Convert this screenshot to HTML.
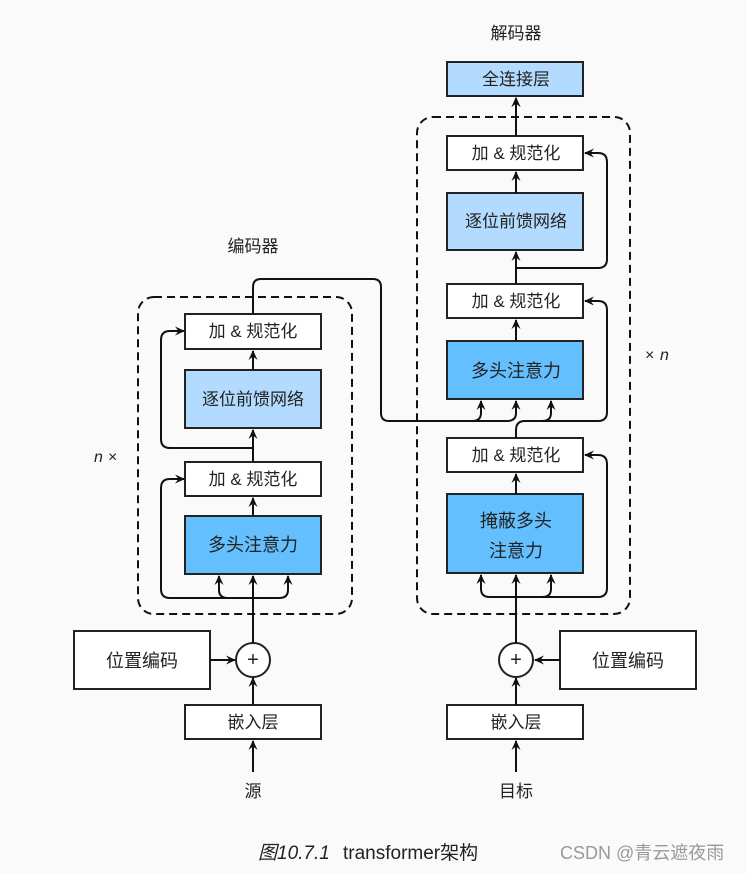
<!DOCTYPE html>
<html><head><meta charset="utf-8"><style>
html,body{margin:0;padding:0;background:#fafafa;}
svg text{font-family:"Liberation Sans","Noto Sans CJK SC",sans-serif;fill:#222;}
</style></head><body>
<svg width="747" height="869" viewBox="0 0 747 869" xmlns="http://www.w3.org/2000/svg">
<defs>
<marker id="a" viewBox="0 0 10 10" refX="9" refY="5" markerWidth="10" markerHeight="10" orient="auto" markerUnits="userSpaceOnUse">
<path d="M0,0.5 L10,5 L0,9.5 L3.5,5 z" fill="#111"/>
</marker>
</defs>
<rect width="747" height="869" fill="#fafafa"/>
<g fill="none" stroke="#111" stroke-width="2">
<rect x="138" y="297" width="214" height="317" rx="16" stroke-dasharray="8,5"/>
<rect x="417" y="117" width="213" height="497" rx="16" stroke-dasharray="8,5"/>
</g>
<g stroke="#222" stroke-width="2">
<rect x="185" y="314" width="136" height="35" fill="#fff"/>
<rect x="185" y="370" width="136" height="58" fill="#b3dbff"/>
<rect x="185" y="462" width="136" height="34" fill="#fff"/>
<rect x="185" y="516" width="136" height="58" fill="#64bfff"/>
<rect x="74" y="631" width="136" height="58" fill="#fff"/>
<rect x="185" y="705" width="136" height="34" fill="#fff"/>
<circle cx="253" cy="660" r="17" fill="#fff"/>
<rect x="447" y="62" width="136" height="34" fill="#b3dbff"/>
<rect x="447" y="136" width="136" height="34" fill="#fff"/>
<rect x="447" y="193" width="136" height="57" fill="#b3dbff"/>
<rect x="447" y="284" width="136" height="34" fill="#fff"/>
<rect x="447" y="341" width="136" height="58" fill="#64bfff"/>
<rect x="447" y="438" width="136" height="34" fill="#fff"/>
<rect x="447" y="494" width="136" height="79" fill="#64bfff"/>
<rect x="560" y="631" width="136" height="58" fill="#fff"/>
<rect x="447" y="705" width="136" height="34" fill="#fff"/>
<circle cx="516" cy="660" r="17" fill="#fff"/>
</g>
<g fill="none" stroke="#111" stroke-width="2" marker-end="url(#a)">
<line x1="253" y1="772" x2="253" y2="741"/>
<line x1="253" y1="705" x2="253" y2="678"/>
<line x1="210" y1="660" x2="235" y2="660"/>
<line x1="253" y1="643" x2="253" y2="576"/>
<path d="M253,598 H228 Q219,598 219,590 V576"/>
<path d="M253,598 H279 Q288,598 288,590 V576"/>
<path d="M253,598 H170 Q161,598 161,589 V488 Q161,479 170,479 H184"/>
<line x1="253" y1="516" x2="253" y2="498"/>
<line x1="253" y1="462" x2="253" y2="430"/>
<path d="M253,448 H170 Q161,448 161,439 V340 Q161,331 170,331 H184"/>
<line x1="253" y1="370" x2="253" y2="351"/>
<path d="M253,314 V287 Q253,279 261,279 H373 Q381,279 381,287 V413 Q381,421 389,421 H472 Q481,421 481,413 V401"/>
<path d="M470,421 H507 Q516,421 516,413 V401" />
<line x1="516" y1="772" x2="516" y2="741"/>
<line x1="516" y1="705" x2="516" y2="678"/>
<line x1="560" y1="660" x2="535" y2="660"/>
<line x1="516" y1="643" x2="516" y2="575"/>
<path d="M516,597 H490 Q481,597 481,589 V575"/>
<path d="M516,597 H542 Q551,597 551,589 V575"/>
<path d="M516,597 H598 Q607,597 607,588 V464 Q607,455 598,455 H585"/>
<line x1="516" y1="494" x2="516" y2="474"/>
<path d="M516,438 V430 Q516,421 525,421 H542 Q551,421 551,413 V401"/>
<path d="M540,421 H598 Q607,421 607,412 V310 Q607,301 598,301 H585"/>
<line x1="516" y1="341" x2="516" y2="320"/>
<line x1="516" y1="284" x2="516" y2="252"/>
<path d="M516,268 H598 Q607,268 607,259 V162 Q607,153 598,153 H585"/>
<line x1="516" y1="193" x2="516" y2="172"/>
<line x1="516" y1="136" x2="516" y2="98"/>
<line x1="516" y1="117" x2="516" y2="98"/>
</g>
<g font-size="17" text-anchor="middle">
<text x="253" y="252">编码器</text>
<text x="516" y="39">解码器</text>
<text x="253" y="337">加 &amp; 规范化</text>
<text x="253" y="405">逐位前馈网络</text>
<text x="253" y="485">加 &amp; 规范化</text>
<text x="253" y="551" font-size="18">多头注意力</text>
<text x="142" y="667" font-size="18">位置编码</text>
<text x="253" y="728">嵌入层</text>
<text x="253" y="797">源</text>
<text x="516" y="85">全连接层</text>
<text x="516" y="159">加 &amp; 规范化</text>
<text x="516" y="227">逐位前馈网络</text>
<text x="516" y="307">加 &amp; 规范化</text>
<text x="516" y="377" font-size="18">多头注意力</text>
<text x="516" y="461">加 &amp; 规范化</text>
<text x="516" y="527" font-size="18">掩蔽多头</text>
<text x="516" y="557" font-size="18">注意力</text>
<text x="628" y="667" font-size="18">位置编码</text>
<text x="516" y="728">嵌入层</text>
<text x="516" y="797">目标</text>
<text x="253" y="666" font-size="20">+</text>
<text x="516" y="666" font-size="20">+</text>
</g>
<text x="94" y="462" font-size="16" font-family="Liberation Serif,serif" font-style="italic">n</text>
<text x="108" y="462" font-size="16">×</text>
<text x="645" y="360" font-size="16">×</text>
<text x="660" y="360" font-size="16" font-family="Liberation Serif,serif" font-style="italic">n</text>
<text x="258" y="859" font-size="19" font-style="italic" fill="#222">图10.7.1</text>
<text x="343" y="859" font-size="19">transformer架构</text>
<text x="560" y="859" font-size="18" style="fill:#999">CSDN @青云遮夜雨</text>
</svg>
</body></html>
